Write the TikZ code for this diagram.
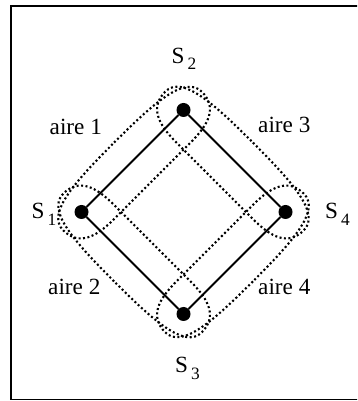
\documentclass[tikz,border=0pt]{standalone}
\usepackage{fontspec}
\setmainfont{Liberation Serif}
\usetikzlibrary{calc}
\tikzset{
  sommet/.style={circle,fill=black,inner sep=0pt,minimum size=0.42cm},
  cote/.style={line width=1.6pt},
  airebord/.style={line width=1.8pt,dash pattern=on 1.7pt off 2.1pt},
  etiq/.style={anchor=base west,inner sep=0pt,font=\fontsize{19.8}{22}\selectfont}
}
\newcommand{\indice}[1]{S\kern2.6pt\raisebox{-5.2pt}{\fontsize{14.8}{16}\selectfont #1}}
% one loop around an edge, drawn in the frame of the edge
\newcommand{\aire}[3]{%
  \begin{scope}[shift={($(#1)!0.5!(#2)$)},rotate=#3]
    \draw[airebord] (0,26) .. controls (55,26) and (98,24) .. (98,0)
      .. controls (98,-22) and (80,-28) .. (55,-28) -- (-55,-28)
      .. controls (-80,-28) and (-98,-22) .. (-98,0)
      .. controls (-98,24) and (-55,26) .. (0,26) -- cycle;
  \end{scope}}

\begin{document}
\begin{tikzpicture}[x=0.03cm,y=0.03cm]
\clip (0,0) rectangle (357,401);
\draw[line width=1.7pt] (365,395.3) -- (11,395.3) -- (11,1.5) -- (365,1.5);

\node[sommet] (s1) at (81.5,189) {};
\node[sommet] (s2) at (183.5,291) {};
\node[sommet] (s3) at (183.5,87) {};
\node[sommet] (s4) at (285.5,189) {};
\draw[cote] (s1) -- (s2) -- (s4) -- (s3) -- (s1);

\aire{s1}{s2}{45}
\aire{s2}{s4}{-45}
\aire{s4}{s3}{-135}
\aire{s3}{s1}{135}

\node[etiq] (l1) at (171.5,337.7) {\indice{2}};
\node[etiq] (l2) at (31.5,182) {\indice{1}};
\node[etiq] (l3) at (325,182) {\indice{4}};
\node[etiq] (l4) at (175,28) {\indice{3}};

\node[etiq] (a1) at (49.5,266.5) {aire 1};
\node[etiq] (a3) at (258,268) {aire 3};
\node[etiq] (a2) at (48,106) {aire 2};
\node[etiq] (a4) at (258,106) {aire 4};
\end{tikzpicture}
\end{document}
